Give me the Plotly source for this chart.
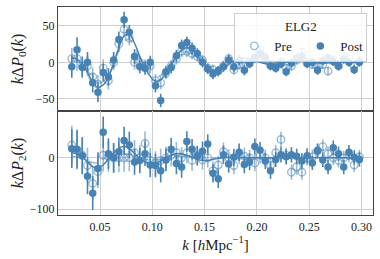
import plotly.graph_objects as go
from plotly.subplots import make_subplots

k = [0.023, 0.028, 0.033, 0.038, 0.043, 0.048, 0.053, 0.058, 0.063, 0.068,
     0.073, 0.078, 0.083, 0.088, 0.093, 0.098, 0.103, 0.108, 0.113, 0.118,
     0.123, 0.128, 0.133, 0.138, 0.143, 0.148, 0.153, 0.158, 0.163, 0.168,
     0.173, 0.178, 0.183, 0.188, 0.193, 0.198, 0.203, 0.208, 0.213, 0.218,
     0.223, 0.228, 0.233, 0.238, 0.243, 0.248, 0.253, 0.258, 0.263, 0.268,
     0.273, 0.278, 0.283, 0.288, 0.293, 0.298]

post_p0 = [-6, 17, -7, 0, -28, -41, -14, -20, 3, 31,
           58, 41, 8, -6, -8, 0, -32, -52, -13, -7,
           9, 23, 27, 19, 12, 0, -9, -16, -12, -6,
           3, -6, 3, -11, -2, 7, 12, 7, -5, -8,
           -2, -13, -1, 6, 8, -2, 0, -11, 2, 6,
           1, -5, 4, 0, -10, 0]
pre_p0 = [5, 5, -5, -5, -20, -30, -8, -25, 0, 25,
          45, 33, 0, 0, -5, -5, -25, -28, -15, -5,
          5, 15, 15, 12, 8, 3, -8, -10, -12, -5,
          5, -10, -3, -5, 0, 5, 17, 5, -3, -5,
          0, -8, -5, 3, 14, 0, -3, -5, -3, -12,
          3, -5, 8, 5, -5, 2]
err_p0 = [15, 17, 14, 14, 13, 13, 12, 12, 11, 11,
          11, 10, 10, 9, 9, 9, 9, 9, 8, 8,
          8, 8, 8, 8, 7, 7, 7, 7, 7, 7,
          7, 7, 7, 7, 6, 6, 6, 6, 6, 6,
          6, 6, 6, 6, 6, 6, 6, 6, 6, 6,
          6, 6, 6, 6, 6, 6]

post_p2 = [18, 17, 4, -36, -69, -21, 50, 8, 0, 12,
           34, 25, -8, -5, 8, -14, -15, -25, -4, 17,
           -11, -18, 32, 17, 4, 13, 27, -30, -41, 6,
           -12, 1, 11, -13, -8, 22, 15, -6, -25, -3,
           6, 2, 6, 3, -6, 4, -10, 14, -4, -18,
           20, 8, -18, 11, 1, -3]
pre_p2 = [25, 15, 5, -15, -50, -27, 5, 3, 0, 0,
          0, 0, 10, 0, 28, -5, -10, -5, 0, 5,
          10, 0, 10, -5, 5, -4, 0, -25, -14, 12,
          0, -15, 5, 3, 0, -10, 5, 0, -15, 10,
          36, 5, -28, -18, -28, 0, 2, 14, 22, 8,
          0, -5, 0, 5, -14, 2]
err_p2 = [38, 38, 36, 35, 33, 32, 31, 30, 29, 28,
          27, 26, 25, 25, 24, 24, 23, 23, 22, 22,
          21, 21, 20, 20, 19, 19, 19, 18, 18, 18,
          17, 17, 17, 17, 16, 16, 16, 16, 16, 15,
          15, 15, 15, 15, 15, 15, 14, 14, 14, 14,
          14, 14, 14, 14, 14, 14]

post_model0 = [6, 4, -3, -14, -27, -34, -31, -20, -2, 20,
               36, 38, 26, 8, -8, -19, -26, -24, -15, -3,
               8, 17, 20, 17, 9, 0, -8, -12, -12, -8,
               -3, 2, 5, 6, 5, 3, 0, -2, -3, -3,
               -2, 0, 1, 2, 2, 1, 0, -1, -1, -1,
               0, 1, 1, 0, 0, 0]
pre_model0 = [7, 5, -2, -11, -22, -28, -26, -17, -2, 16,
              29, 31, 21, 6, -6, -15, -20, -18, -11, -2,
              6, 12, 14, 11, 6, 0, -5, -8, -8, -5,
              -2, 1, 3, 4, 3, 2, 0, -1, -2, -2,
              -1, 0, 1, 1, 1, 0, 0, -1, -1, 0,
              0, 0, 0, 0, 0, 0]
post_model2 = [10, 8, 2, -8, -17, -20, -14, -2, 10, 19,
               22, 18, 9, -1, -8, -11, -10, -6, 0, 5,
               8, 8, 5, 1, -3, -5, -5, -3, -1, 0,
               1, 1, 1, 0, 0, 0, 0, 0, 0, 0,
               0, 0, 0, 0, 0, 0, 0, 0, 0, 0,
               0, 0, 0, 0, 0, 0]
pre_model2 = [3, 2, -2, -6, -9, -10, -7, -2, 3, 7,
              8, 7, 4, 0, -3, -4, -4, -2, 0, 2,
              3, 3, 2, 0, -1, -2, -2, -1, 0, 0,
              0, 0, 0, 0, 0, 0, 0, 0, 0, 0,
              0, 0, 0, 0, 0, 0, 0, 0, 0, 0,
              0, 0, 0, 0, 0, 0]

C = "rgb(70,130,180)"
CL = "rgba(70,130,180,0.55)"
FONT = "Liberation Serif"

fig = make_subplots(rows=2, cols=1, shared_xaxes=True, vertical_spacing=0)

for row, pm, qm, pre, post, err in [
        (1, pre_model0, post_model0, pre_p0, post_p0, err_p0),
        (2, pre_model2, post_model2, pre_p2, post_p2, err_p2)]:
    fig.add_trace(go.Scatter(x=k, y=pm, mode="lines", showlegend=False,
                             line=dict(color=CL, width=1.5, dash="dash", shape="spline")),
                  row=row, col=1)
    fig.add_trace(go.Scatter(x=k, y=qm, mode="lines", showlegend=False,
                             line=dict(color=C, width=1.5, shape="spline")),
                  row=row, col=1)
    fig.add_trace(go.Scatter(x=k, y=pre, mode="markers", name="Pre",
                             legendgroup="pre", showlegend=(row == 1),
                             marker=dict(symbol="circle-open", size=7.5, color=CL,
                                         line=dict(width=1.4, color=CL)),
                             error_y=dict(type="data", array=err, color=CL,
                                          thickness=1.6, width=0)),
                  row=row, col=1)
    fig.add_trace(go.Scatter(x=k, y=post, mode="markers", name="Post",
                             legendgroup="post", showlegend=(row == 1),
                             marker=dict(symbol="circle", size=7.5, color=C),
                             error_y=dict(type="data", array=err, color=C,
                                          thickness=1.6, width=0)),
                  row=row, col=1)

axcommon = dict(showline=True, mirror=True, linecolor="#444444", linewidth=1.2,
                showgrid=True, gridcolor="#cfcfcf", gridwidth=1, zeroline=False,
                ticks="", automargin=False,
                tickfont=dict(family=FONT, size=12, color="#222"))

fig.update_xaxes(range=[0.0098, 0.311], tickvals=[0.05, 0.10, 0.15, 0.20, 0.25, 0.30],
                 ticktext=["0.05", "0.10", "0.15", "0.20", "0.25", "0.30"], **axcommon)
fig.update_xaxes(showticklabels=False, row=1, col=1)
fig.update_xaxes(title=dict(text="<i>k</i> [<i>h</i>Mpc<sup>−1</sup>]",
                            font=dict(family=FONT, size=15, color="#222"), standoff=6),
                 row=2, col=1)
fig.update_yaxes(**axcommon)
fig.update_yaxes(range=[-66.4, 75.4], tickvals=[-50, 0, 50], domain=[0.5, 1.0],
                 title=dict(text="<i>k</i>Δ<i>P</i><sub>0</sub>(<i>k</i>)",
                            font=dict(family=FONT, size=16, color="#222"), standoff=8),
                 row=1, col=1)
fig.update_yaxes(range=[-111.7, 91.6], tickvals=[-100, 0], domain=[0.0, 0.5],
                 title=dict(text="<i>k</i>Δ<i>P</i><sub>2</sub>(<i>k</i>)",
                            font=dict(family=FONT, size=16, color="#222"), standoff=2),
                 row=2, col=1)

fig.update_layout(
    width=380, height=259,
    margin=dict(l=58, r=7, t=7, b=44, autoexpand=False),
    paper_bgcolor="white", plot_bgcolor="white",
    font=dict(family=FONT, size=12, color="#222"),
    legend=dict(title=dict(text="ELG2", side="top center",
                           font=dict(family=FONT, size=13, color="#222")),
                orientation="h", x=0.982, xanchor="right", y=0.971, yanchor="top",
                bgcolor="rgba(255,255,255,0.85)", bordercolor="#cccccc", borderwidth=1,
                font=dict(family=FONT, size=13, color="#222"), itemwidth=30,
                entrywidth=21, entrywidthmode="pixels",
                tracegroupgap=0),
)

fig.write_html("out.html", config={"displayModeBar": False},
               post_script="document.body.style.margin='0';document.body.style.padding='0';")
